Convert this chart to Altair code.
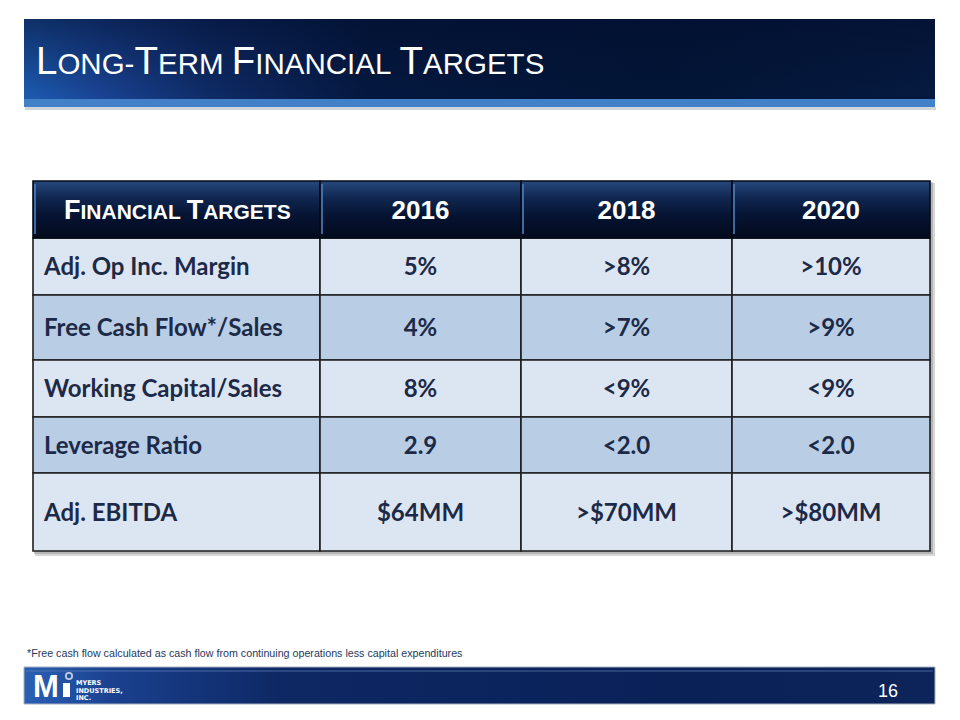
import altair as alt
import pandas as pd

# ---------------- data ----------------
title_text = "Long-Term Financial Targets"
header_first = "Financial Targets"
years = ["2016", "2018", "2020"]
metrics = ["Adj. Op Inc. Margin", "Free Cash Flow*/Sales", "Working Capital/Sales",
           "Leverage Ratio", "Adj. EBITDA"]
targets_2016 = ["5%", "4%", "8%", "2.9", "$64MM"]
targets_2018 = [">8%", ">7%", "<9%", "<2.0", ">$70MM"]
targets_2020 = [">10%", ">9%", "<9%", "<2.0", ">$80MM"]
footnote = "*Free cash flow calculated as cash flow from continuing operations less capital expenditures"
page_number = "16"
logo_lines = ["MYERS", "INDUSTRIES,", "INC."]

# ---------------- layout (chart px = page px - 8) ----------------
COL_EDGES = [25, 312, 513, 724, 922]
ROW_EDGES = [173, 230, 287, 352, 409, 465, 543]

xs = alt.Scale(domain=list(range(len(COL_EDGES))), range=COL_EDGES, zero=False, nice=False)
ys = alt.Scale(domain=list(range(len(ROW_EDGES))), range=ROW_EDGES, zero=False, nice=False)

rows = []
for c, lab in enumerate([header_first] + years):
    rows.append(dict(r0=0, r1=1, rm=0.5, c0=c, c1=c + 1, cm=c + 0.5, text=lab, band="header"))
for i, m in enumerate(metrics):
    r = i + 1
    band = "light" if i % 2 == 0 else "dark"
    for c, v in enumerate([m, targets_2016[i], targets_2018[i], targets_2020[i]]):
        rows.append(dict(r0=r, r1=r + 1, rm=r + 0.5, c0=c, c1=c + 1, cm=c + 0.5, text=v, band=band))
cells = pd.DataFrame(rows)
header = cells[cells.band == "header"]
header_years = header[header.c0 > 0]
body = cells[cells.band != "header"]
body_first = body[body.c0 == 0]
body_vals = body[body.c0 > 0]
outline = pd.DataFrame([dict(r0=0, r1=len(ROW_EDGES) - 1, c0=0, c1=len(COL_EDGES) - 1)])

one = pd.DataFrame({"k": [0]})

X = lambda f: alt.X(f, scale=xs, axis=None)
Y = lambda f: alt.Y(f, scale=ys, axis=None)

ARIAL = {"L": 556, "O": 778, "N": 722, "G": 778, "-": 333, "T": 611, "E": 667, "R": 722,
         "M": 833, " ": 278, "F": 611, "I": 278, "A": 667, "C": 722, "S": 667}
ARIAL_B = {"F": 611, "I": 278, "N": 722, "A": 722, "C": 722, "L": 611, " ": 278, "T": 611,
           "R": 722, "G": 778, "E": 667, "S": 667}


def smallcaps(text, big, small, widths, x0, y, color, weight="normal", font="Liberation Sans"):
    segs = []
    for ch in text:
        size = big if ch.isupper() else small
        if segs and segs[-1][1] == size:
            segs[-1][0] += ch.upper()
        else:
            segs.append([ch.upper(), size])
    out = []
    x = x0
    for s, size in segs:
        out.append(alt.Chart(one).mark_text(align="left", baseline="alphabetic", font=font,
                                            fontSize=size, fontWeight=weight, color=color).encode(
            x=alt.value(x), y=alt.value(y), text=alt.value(s)))
        x += sum(widths.get(ch, 600) for ch in s) * size / 1000.0
    return out


layers = []

# ---------------- title banner ----------------
layers.append(alt.Chart(one).mark_rect(fill=alt.Gradient(
    gradient="linear", x1=0, x2=1, y1=0, y2=0,
    stops=[alt.GradientStop(color="#1d5cb2", offset=0),
           alt.GradientStop(color="#1a4596", offset=0.08),
           alt.GradientStop(color="#0f2c68", offset=0.2),
           alt.GradientStop(color="#04183f", offset=0.38),
           alt.GradientStop(color="#021536", offset=0.7),
           alt.GradientStop(color="#061a40", offset=1)])).encode(
    x=alt.value(16), x2=alt.value(927), y=alt.value(11), y2=alt.value(91)))
layers.append(alt.Chart(one).mark_rect(fill=alt.Gradient(
    gradient="linear", x1=0, x2=0, y1=0, y2=1,
    stops=[alt.GradientStop(color="rgba(2,14,45,0.55)", offset=0),
           alt.GradientStop(color="rgba(2,14,45,0)", offset=1)])).encode(
    x=alt.value(16), x2=alt.value(927), y=alt.value(11), y2=alt.value(91)))
layers.append(alt.Chart(one).mark_rect(fill="#4281c7").encode(
    x=alt.value(16), x2=alt.value(927), y=alt.value(91), y2=alt.value(99)))
layers.append(alt.Chart(one).mark_rect(fill="#9aa3ad", opacity=0.45).encode(
    x=alt.value(17), x2=alt.value(928), y=alt.value(99), y2=alt.value(102)))
layers += smallcaps(title_text, 38.5, 29.5, ARIAL, 28, 66, "white")

# ---------------- table ----------------
layers.append(alt.Chart(outline).mark_rect(fill="#8c8c8c", opacity=0.35, xOffset=2, x2Offset=5,
                                           yOffset=2, y2Offset=5).encode(
    x=X("c0:Q"), x2="c1:Q", y=Y("r0:Q"), y2="r1:Q"))
layers.append(alt.Chart(outline).mark_rect(fill="#8c8c8c", opacity=0.45, xOffset=1, x2Offset=3,
                                           yOffset=1, y2Offset=3).encode(
    x=X("c0:Q"), x2="c1:Q", y=Y("r0:Q"), y2="r1:Q"))
layers.append(alt.Chart(body).mark_rect(stroke="#1e1e1e", strokeWidth=1.6).encode(
    x=X("c0:Q"), x2="c1:Q", y=Y("r0:Q"), y2="r1:Q",
    fill=alt.Fill("band:N", scale=alt.Scale(domain=["light", "dark"], range=["#dce6f2", "#b9cde5"]),
                  legend=None)))
layers.append(alt.Chart(header).mark_rect(stroke="#050a14", strokeWidth=1.6, fill=alt.Gradient(
    gradient="linear", x1=0, x2=0, y1=0, y2=1,
    stops=[alt.GradientStop(color="#27497e", offset=0),
           alt.GradientStop(color="#10264f", offset=0.3),
           alt.GradientStop(color="#061433", offset=0.6),
           alt.GradientStop(color="#020a1c", offset=1)])).encode(
    x=X("c0:Q"), x2="c1:Q", y=Y("r0:Q"), y2="r1:Q"))
layers.append(alt.Chart(header).mark_rule(color="#4b7fc4", strokeWidth=2, opacity=0.8,
                                          xOffset=2, yOffset=3, y2Offset=-4).encode(
    x=X("c0:Q"), y=Y("r0:Q"), y2="r1:Q"))
layers.append(alt.Chart(header_years).mark_text(
    align="center", baseline="alphabetic", font="Liberation Sans", fontWeight="bold",
    fontSize=26, color="white", dy=9.3).encode(x=X("cm:Q"), y=Y("rm:Q"), text="text:N"))
layers += smallcaps(header_first, 27, 21, ARIAL_B, 56, 211, "white", weight="bold")
layers.append(alt.Chart(body_first).mark_text(
    align="left", baseline="alphabetic", font="Lato", fontWeight="bold",
    fontSize=24, color="#1c2a48", dx=11, dy=8.6).encode(x=X("c0:Q"), y=Y("rm:Q"), text="text:N"))
layers.append(alt.Chart(body_vals).mark_text(
    align="center", baseline="alphabetic", font="Lato", fontWeight="bold",
    fontSize=24, color="#1c2a48", dy=8.6).encode(x=X("cm:Q"), y=Y("rm:Q"), text="text:N"))

# ---------------- footnote & footer ----------------
layers.append(alt.Chart(one).mark_text(align="left", baseline="alphabetic", font="Liberation Sans",
                                       fontSize=10.7, color="#26395c").encode(
    x=alt.value(19), y=alt.value(649), text=alt.value(footnote)))
layers.append(alt.Chart(one).mark_rect(stroke="#a7b1c2", strokeWidth=1, fill=alt.Gradient(
    gradient="linear", x1=0, x2=1, y1=0, y2=0,
    stops=[alt.GradientStop(color="#2a60b4", offset=0),
           alt.GradientStop(color="#1a408e", offset=0.1),
           alt.GradientStop(color="#0e2864", offset=0.28),
           alt.GradientStop(color="#0a2158", offset=0.7),
           alt.GradientStop(color="#0c2459", offset=1)])).encode(
    x=alt.value(16), x2=alt.value(927), y=alt.value(659), y2=alt.value(696)))
layers.append(alt.Chart(one).mark_rect(fill="#5f82b8", opacity=0.35).encode(
    x=alt.value(18), x2=alt.value(925), y=alt.value(662), y2=alt.value(664)))
layers.append(alt.Chart(one).mark_text(align="left", baseline="alphabetic", font="Liberation Sans",
                                       fontWeight="bold", fontSize=31, color="white").encode(
    x=alt.value(25), y=alt.value(689), text=alt.value("M")))
layers.append(alt.Chart(one).mark_rect(fill="white").encode(
    x=alt.value(55), x2=alt.value(62), y=alt.value(675), y2=alt.value(689)))
layers.append(alt.Chart(one).mark_point(shape="circle", filled=False, color="white", size=40,
                                        strokeWidth=1.8).encode(
    x=alt.value(61), y=alt.value(668)))
for k, line in enumerate(logo_lines):
    layers.append(alt.Chart(one).mark_text(align="left", baseline="alphabetic", font="DejaVu Sans",
                                           fontWeight="bold", fontSize=6.5, color="white").encode(
        x=alt.value(68), y=alt.value(677 + 7.5 * k), text=alt.value(line)))
layers.append(alt.Chart(one).mark_text(align="center", baseline="alphabetic",
                                       font="Liberation Sans Narrow, Liberation Sans",
                                       fontSize=18, color="white").encode(
    x=alt.value(880), y=alt.value(689), text=alt.value(page_number)))

chart = alt.layer(*layers).properties(
    width=944, height=704, padding=0,
    autosize=alt.AutoSizeParams(type="none"),
    background="white",
).configure_view(strokeWidth=0)

chart.save("out.html", embed_options={"renderer": "svg", "actions": False})
